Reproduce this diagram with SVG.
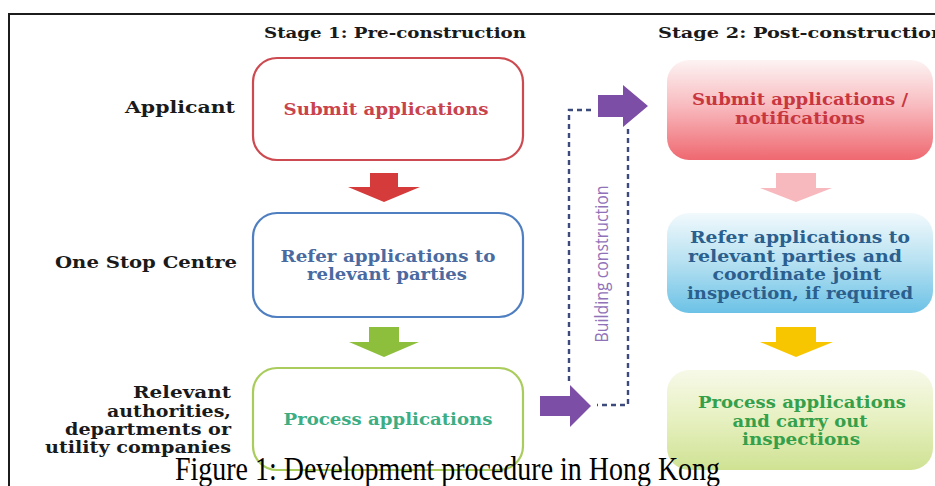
<svg xmlns="http://www.w3.org/2000/svg" width="935" height="486" viewBox="0 0 935 486">
  <defs>
    <linearGradient id="gRed" x1="0" y1="0" x2="0" y2="1">
      <stop offset="0" stop-color="#fdf3f3"/>
      <stop offset="0.45" stop-color="#f8bcc0"/>
      <stop offset="1" stop-color="#ef6870"/>
    </linearGradient>
    <linearGradient id="gBlue" x1="0" y1="0" x2="0" y2="1">
      <stop offset="0" stop-color="#f1f9fc"/>
      <stop offset="0.5" stop-color="#b5e0f1"/>
      <stop offset="1" stop-color="#6cc2e6"/>
    </linearGradient>
    <linearGradient id="gGreen" x1="0" y1="0" x2="0" y2="1">
      <stop offset="0" stop-color="#f7f9e8"/>
      <stop offset="0.5" stop-color="#e6f0c0"/>
      <stop offset="1" stop-color="#cfe293"/>
    </linearGradient>
  </defs>
  <style>
    .hd  { font-family: "DejaVu Serif", "Liberation Serif", serif; font-weight: bold; font-size: 15px; fill: #1a1a1a; }
    .lbl { font-family: "DejaVu Serif", "Liberation Serif", serif; font-weight: bold; font-size: 17px; fill: #1a1a1a; text-anchor: end; }
    .nt  { font-family: "DejaVu Serif", "Liberation Serif", serif; font-weight: bold; font-size: 16.5px; text-anchor: middle; }
    .box { fill: #ffffff; stroke-width: 2.2; }
    .dash { fill: none; stroke: #3d4b7c; stroke-width: 2.4; stroke-dasharray: 5 4; }
    .purple { fill: #7d4ea6; }
    .cap { font-family: "Liberation Serif", "Times New Roman", serif; font-size: 33px; fill: #000000; }
  </style>

  <rect width="935" height="486" fill="#ffffff"/>
  <!-- outer frame -->
  <path d="M9,486 V14 H935" fill="none" stroke="#1c1c1c" stroke-width="2"/>

  <!-- stage headings -->
  <text class="hd" x="264" y="38" textLength="262" lengthAdjust="spacingAndGlyphs">Stage 1: Pre-construction</text>
  <text class="hd" x="658" y="38" textLength="287" lengthAdjust="spacingAndGlyphs">Stage 2: Post-construction</text>

  <!-- row labels -->
  <g id="labels">
    <text class="lbl" x="235" y="113" textLength="110" lengthAdjust="spacingAndGlyphs">Applicant</text>
    <text class="lbl" x="237" y="268" textLength="182" lengthAdjust="spacingAndGlyphs">One Stop Centre</text>
    <text class="lbl" x="231" y="398" textLength="98" lengthAdjust="spacingAndGlyphs">Relevant</text>
    <text class="lbl" x="231" y="417" textLength="124" lengthAdjust="spacingAndGlyphs">authorities,</text>
    <text class="lbl" x="231" y="435" textLength="166" lengthAdjust="spacingAndGlyphs">departments or</text>
    <text class="lbl" x="231" y="453" textLength="186" lengthAdjust="spacingAndGlyphs">utility companies</text>
  </g>

  <!-- stage 1 -->
  <g id="s1-submit">
    <rect class="box" x="253" y="58" width="270" height="102" rx="24" stroke="#cd4a51"/>
    <text class="nt" x="386" y="115" textLength="205" lengthAdjust="spacingAndGlyphs" fill="#c9434d">Submit applications</text>
  </g>
  <g id="s1-refer">
    <rect class="box" x="253" y="213" width="270" height="104" rx="24" stroke="#4f7fc0"/>
    <text class="nt" x="388" y="262" textLength="215" lengthAdjust="spacingAndGlyphs" fill="#4a6aa0">Refer applications to</text>
    <text class="nt" x="387" y="280" textLength="160" lengthAdjust="spacingAndGlyphs" fill="#4a6aa0">relevant parties</text>
  </g>
  <g id="s1-process">
    <rect class="box" x="253" y="368" width="270" height="102" rx="24" stroke="#a9cc5c"/>
    <text class="nt" x="388" y="425" textLength="209" lengthAdjust="spacingAndGlyphs" fill="#3dae84">Process applications</text>
  </g>

  <!-- stage 2 -->
  <g id="s2-submit">
    <rect x="667" y="60" width="266" height="100" rx="22" fill="url(#gRed)"/>
    <text class="nt" x="800" y="105" textLength="216" lengthAdjust="spacingAndGlyphs" fill="#c8363e">Submit applications /</text>
    <text class="nt" x="800" y="123.5" textLength="130" lengthAdjust="spacingAndGlyphs" fill="#c8363e">notifications</text>
  </g>
  <g id="s2-refer">
    <rect x="667" y="213" width="266" height="100" rx="22" fill="url(#gBlue)"/>
    <text class="nt" x="800" y="243" textLength="220" lengthAdjust="spacingAndGlyphs" fill="#2b5f8e">Refer applications to</text>
    <text class="nt" x="795" y="261.5" textLength="214" lengthAdjust="spacingAndGlyphs" fill="#2b5f8e">relevant parties and</text>
    <text class="nt" x="797" y="280" textLength="169" lengthAdjust="spacingAndGlyphs" fill="#2b5f8e">coordinate joint</text>
    <text class="nt" x="800" y="298.5" textLength="226" lengthAdjust="spacingAndGlyphs" fill="#2b5f8e">inspection, if required</text>
  </g>
  <g id="s2-process">
    <rect x="667" y="370" width="266" height="100" rx="22" fill="url(#gGreen)"/>
    <text class="nt" x="802" y="408" textLength="208" lengthAdjust="spacingAndGlyphs" fill="#35a04b">Process applications</text>
    <text class="nt" x="800" y="426.5" textLength="135" lengthAdjust="spacingAndGlyphs" fill="#35a04b">and carry out</text>
    <text class="nt" x="801" y="445" textLength="118" lengthAdjust="spacingAndGlyphs" fill="#35a04b">inspections</text>
  </g>

  <!-- connectors -->
  <g id="connectors">
    <!-- block arrows, stage 1 -->
    <polygon points="370,173 398,173 398,187 420,187 384,202 348,187 370,187" fill="#d63b3b"/>
    <polygon points="369,327 399,327 399,342 419,342 384,357 349,342 369,342" fill="#8dbf3c"/>
    <!-- block arrows, stage 2 -->
    <polygon points="776,173 816,173 816,188 832,188 796,202 760,188 776,188" fill="#f7b9bd"/>
    <polygon points="776,327 816,327 816,342 833,342 796,357 760,342 776,342" fill="#f8c600"/>
    <!-- building construction bracket -->
    <path class="dash" d="M591,110 H569 V384"/>
    <path class="dash" d="M628,129 V405 H597"/>
    <polygon class="purple" points="598,95 623,95 623,85 648,106 623,127 623,117 598,117"/>
    <polygon class="purple" points="540,396 570,396 570,385 591,406 570,427 570,416 540,416"/>
    <text x="608" y="264" transform="rotate(-90 608 264)" text-anchor="middle" font-family="'Open Sans', 'Liberation Sans', sans-serif" font-size="19" fill="#9072b9" textLength="157" lengthAdjust="spacingAndGlyphs">Building construction</text>
  </g>

  <!-- caption -->
  <text class="cap" x="175" y="480" textLength="545" lengthAdjust="spacingAndGlyphs">Figure 1: Development procedure in Hong Kong</text>
</svg>
